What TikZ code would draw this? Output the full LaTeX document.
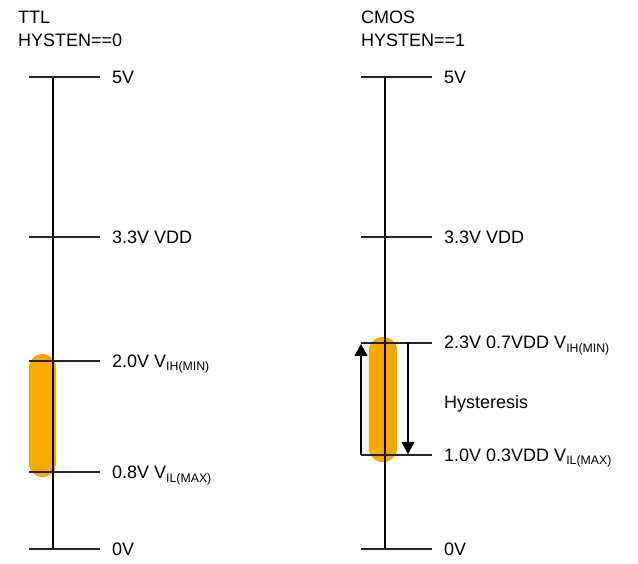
\documentclass[tikz,border=0pt]{standalone}
\usepackage{fontspec}
\setmainfont{Liberation Sans}
\usetikzlibrary{arrows.meta}
\definecolor{barorange}{RGB}{245,168,0}
\definecolor{stripgray}{RGB}{242,242,242}
\newcommand{\sub}[1]{\raisebox{-3.5pt}{\fontsize{12.3}{12}\selectfont #1}}
\tikzset{
  axisline/.style={line width=1.1pt, black},
  tickline/.style={line width=1.2pt, black!85},
  lbl/.style={anchor=base west, inner sep=0pt, font=\fontsize{18}{20}\selectfont},
  hdr/.style={anchor=base west, inner sep=0pt, font=\fontsize{18}{20}\selectfont, align=left},
  hbar/.style={fill=barorange, draw=none, rounded corners=13.5pt},
  harrow/.style={line width=1.1pt, black, -{Triangle[width=13pt,length=12pt]}}
}
\begin{document}
\begin{tikzpicture}[x=1pt,y=-1pt]
\useasboundingbox (0,0) rectangle (638,564);
% headers
\node[hdr] (h1) at (18,24) {TTL};
\node[hdr] (h2) at (18,46.5) {HYSTEN==0};
\node[hdr] (h3) at (361,24) {CMOS};
\node[hdr] (h4) at (361,46.5) {HYSTEN==1};

% ---------- left (TTL) ----------
\fill[hbar] (29,354) rectangle (56,477);
\coordinate (La) at (53,77);
\coordinate (Lb) at (53,549);
\foreach \n/\y in {5/77, 3/237, 2/361, 0/472, z/549}{
  \coordinate (Lt\n l) at (29,\y);
  \coordinate (Lt\n r) at (100,\y);
}
\draw[axisline] (La) -- (Lb);
\foreach \n in {5,3,2,0,z}{ \draw[tickline] (Lt\n l) -- (Lt\n r); }
\node[lbl] (l5) at (112,83.5) {5V};
\node[lbl] (l3) at (112,243.5) {3.3V VDD};
\node[lbl] (l2) at (112,367) {2.0V V\sub{IH(MIN)}};
\node[lbl] (l0) at (112,478.5) {0.8V V\sub{IL(MAX)}};
\node[lbl] (lz) at (112,555.5) {0V};

% ---------- right (CMOS) ----------
\fill[stripgray] (361,343) rectangle (380,455);
\fill[hbar] (369,337) rectangle (397,462);
\coordinate (Ra) at (385,77);
\coordinate (Rb) at (385,549);
\foreach \n/\y in {5/77, 3/237, 2/343, 1/455, z/549}{
  \coordinate (Rt\n l) at (361,\y);
  \coordinate (Rt\n r) at (432,\y);
}
\draw[axisline] (Ra) -- (Rb);
\foreach \n in {5,3,2,1,z}{ \draw[tickline] (Rt\n l) -- (Rt\n r); }
\coordinate (upS) at (361,455);
\coordinate (upE) at (361,344);
\coordinate (dnS) at (408,343);
\coordinate (dnE) at (408,454);
\draw[harrow] (upS) -- (upE);
\draw[harrow] (dnS) -- (dnE);
\node[lbl] (r5) at (444,83.5) {5V};
\node[lbl] (r3) at (444,243.5) {3.3V VDD};
\node[lbl] (r2) at (444,349) {2.3V 0.7VDD V\sub{IH(MIN)}};
\node[lbl] (rh) at (444,408.5) {Hysteresis};
\node[lbl] (r1) at (444,461) {1.0V 0.3VDD V\sub{IL(MAX)}};
\node[lbl] (rz) at (444,555.5) {0V};
\end{tikzpicture}
\end{document}
